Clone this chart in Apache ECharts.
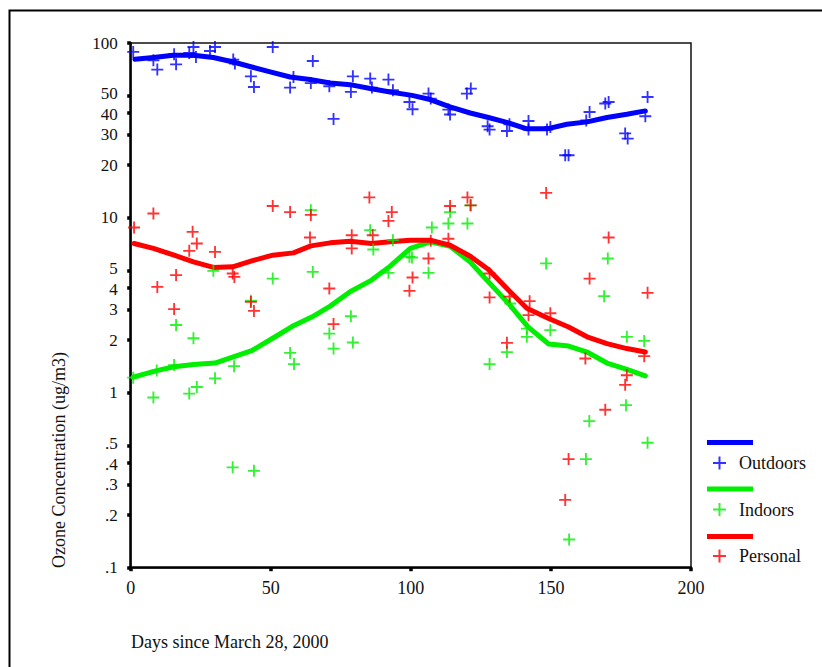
<!DOCTYPE html>
<html>
<head>
<meta charset="utf-8">
<script src="https://cdn.jsdelivr.net/npm/echarts@6/dist/echarts.min.js"></script>
<style>
html,body{margin:0;padding:0;background:#fff;}
#chart{width:822px;height:667px;}
</style>
</head>
<body>
<div id="chart"></div>
<script>
// ---- data (day since March 28, 2000 ; ozone ug/m3) ----
var outdoorsPoints = [[0.9,88.9],[8.1,79.6],[9.5,70.5],[15.5,86.2],[16.2,75.5],[20.9,87.7],[22.4,94.9],[23.3,83.2],[28.3,90],[30.1,94.9],[36.6,80.4],[37.2,76.3],[42.9,64.5],[44.0,56],[50.7,94.9],[56.9,55.6],[58.1,63.9],[64.3,59],[65,78.9],[70.9,56.6],[72.4,36.8],[78.6,52.5],[79.3,64.5],[85.5,62.6],[86.1,55.6],[92,61.8],[93.6,53.7],[99.5,46],[100.6,41.8],[106.3,51.4],[107.1,48.1],[113.4,41.6],[114,39],[120,51.4],[121.4,54.9],[127.4,33.4],[128.1,32],[134.3,31.4],[135.2,34.3],[142,35.8],[142,32],[148.6,32],[149.8,33.1],[155.1,22.8],[156.3,22.8],[162.6,36.1],[163.8,40.3],[169.4,45.1],[170.6,46],[176.5,30.4],[177.4,28.4],[183.7,38.1],[184.5,49.1]];
var outdoorsFit = [[1.5,80.7],[8.1,82.6],[15.2,85.1],[22.4,85.1],[29.5,82.6],[36.6,77.9],[43.2,72.9],[49.8,68.3],[56.9,63.9],[64,61.8],[71.2,59],[78.3,57.8],[85.5,54.9],[92.6,52.5],[100.4,50.2],[106.9,47.5],[114,43.1],[121.2,39.8],[127.7,37.5],[134.9,34.9],[141.4,32.3],[148.6,32.3],[155.7,34.3],[162.9,35.4],[170,37.5],[177.1,39.1],[183.7,40.9]];

var indoorsPoints = [[0.9,1.22],[8.1,0.94],[9.3,1.34],[16.2,2.44],[15.5,1.44],[22.4,2.05],[20.9,0.99],[23.6,1.08],[30.1,1.21],[29.5,4.98],[36.9,1.42],[36.4,0.375],[44.0,0.358],[42.9,3.36],[50.7,4.5],[56.9,1.69],[58.3,1.46],[64.3,11.07],[65,4.91],[70.9,2.18],[72.4,1.79],[78.6,2.74],[79.3,1.94],[85.5,8.51],[86.6,6.6],[92,4.85],[93.6,7.46],[99.5,6.0],[100.4,5.94],[106.3,4.85],[107.5,8.81],[113.4,9.29],[114,10.8],[120.2,9.29],[121.2,11.8],[128.1,1.46],[134.3,1.71],[135.5,3.24],[141.4,2.33],[141.4,2.09],[148.3,5.49],[149.8,2.28],[156.5,0.145],[162.5,0.418],[163.7,0.689],[169,3.57],[170.3,5.86],[176.8,0.85],[177.1,2.09],[183.3,1.98],[184.5,0.518]];
var indoorsFit = [[0.9,1.23],[9.3,1.34],[15.5,1.41],[22.4,1.45],[30.1,1.48],[36.9,1.61],[43.2,1.74],[50.7,2.05],[57.7,2.4],[64.8,2.72],[71.2,3.13],[78.3,3.78],[86,4.41],[92.6,5.3],[99.8,6.69],[106.9,7.29],[114,6.89],[121.2,5.6],[127.7,4.31],[134.9,3.24],[141.8,2.38],[149.2,1.9],[156.3,1.85],[162.9,1.71],[170,1.48],[177.1,1.36],[183.7,1.25]];

var personalPoints = [[1.2,8.81],[8.1,10.6],[9.5,4.03],[16.2,4.71],[15.5,3.01],[20.9,6.48],[22.1,8.32],[23.6,7.14],[30.1,6.39],[36.4,4.81],[37,4.6],[42.9,3.31],[44,2.94],[50.7,11.7],[56.9,10.8],[64.3,10.4],[64,7.73],[70.9,3.95],[72.4,2.47],[78.9,7.96],[78.9,6.69],[85.2,13.1],[86.4,7.96],[92,9.61],[93.2,10.8],[99.5,3.83],[100.6,4.56],[106.3,5.86],[107.1,7.4],[113.4,7.6],[114,11.7],[120.2,13.1],[121.4,11.8],[128.1,4.81],[128.1,3.51],[134.3,1.93],[135.2,3.55],[142.4,3.34],[142,2.78],[148.3,13.9],[149.8,2.85],[155.1,0.244],[156.3,0.418],[162.3,1.57],[163.8,4.5],[169.4,0.8],[170.6,7.73],[176.5,1.11],[177.1,1.26],[183.3,1.62],[184.5,3.73]];
var personalFit = [[1.2,7.14],[8.1,6.69],[15.5,6.12],[22.4,5.6],[29.5,5.21],[36.4,5.25],[43.2,5.68],[50.7,6.12],[58.1,6.31],[64.3,6.92],[71.2,7.2],[78.3,7.36],[86,7.14],[92.6,7.3],[99.8,7.46],[106.9,7.46],[114,6.98],[121.2,6.04],[127.7,5.07],[134.9,3.86],[141.4,3.04],[149.2,2.66],[156.3,2.38],[162.9,2.09],[170,1.91],[177.1,1.79],[183.7,1.71]];

var seriesNames = ['Outdoors','Indoors','Personal'];
var yTickValues = [0.1,0.2,0.3,0.4,0.5,1,2,3,4,5,10,20,30,40,50,100];
var yTickLabels = ['.1','.2','.3','.4','.5','1','2','3','4','5','10','20','30','40','50','100'];
var xTickValues = [0,50,100,150,200];
var yAxisTitle = 'Ozone Concentration (ug/m3)';
var xAxisTitle = 'Days since March 28, 2000';

// ---- styling ----
var colors = ['#0000ff','#00ee00','#ff0000'];
var plusPath = 'path://M5.5,0H7.5V5.5H13V7.5H7.5V13H5.5V7.5H0V5.5H5.5Z';
var FONT = '"Liberation Serif","Times New Roman",serif';
var LBL = 17;

var chart = echarts.init(document.getElementById('chart'), null, {renderer:'svg'});

// labels that sit very close together get nudged a hair apart
var nudgeUp = {'50':1, '5':1, '.5':1};
var nudgeDown = {'40':1, '4':1, '.4':1};
function yFmt(v){
  var best = 0, bd = Infinity;
  for (var i=0;i<yTickValues.length;i++){
    var d = Math.abs(Math.log(v) - Math.log(yTickValues[i]));
    if (d < bd){ bd = d; best = i; }
  }
  var s = yTickLabels[best];
  if (nudgeUp[s]) return '{up|' + s + '}';
  if (nudgeDown[s]) return '{dn|' + s + '}';
  return '{n|' + s + '}';
}

var pointSets = [outdoorsPoints, indoorsPoints, personalPoints];
var fitSets = [outdoorsFit, indoorsFit, personalFit];
var series = [];
for (var i=0;i<3;i++){
  series.push({
    name: seriesNames[i] + ' fit',
    type: 'line',
    data: fitSets[i],
    showSymbol: false,
    symbol: 'none',
    smooth: false,
    lineStyle: {color: colors[i], width: 5, cap:'round', join:'round'},
    itemStyle: {color: colors[i]},
    silent: true,
    animation: false,
    z: 2
  });
  series.push({
    name: seriesNames[i],
    type: 'scatter',
    data: pointSets[i],
    symbol: plusPath,
    symbolSize: 12,
    itemStyle: {color: colors[i]},
    animation: false,
    z: 3
  });
}

var lblBase = {color: '#111', fontFamily: FONT, fontSize: LBL, lineHeight: 15};

var option = {
  backgroundColor: '#fff',
  animation: false,
  grid: {
    left: 130.7, right: 131, top: 43, bottom: 99.3,
    show: true, borderColor: '#111', borderWidth: 1.5, backgroundColor: 'transparent'
  },
  xAxis: {
    type: 'value', min: 0, max: 200, interval: 50,
    axisLine: {show: true, onZero: false, lineStyle: {color: '#000', width: 2.5}},
    axisTick: {show: true, length: 3.5, lineStyle: {color: '#000', width: 3.5}, customValues: xTickValues},
    axisLabel: {color: '#111', fontFamily: FONT, fontSize: 18, margin: 11, customValues: xTickValues},
    splitLine: {show: false}
  },
  yAxis: {
    type: 'log', logBase: 10, min: 0.1, max: 100,
    axisLine: {show: true, onZero: false, lineStyle: {color: '#000', width: 2.5}},
    axisTick: {show: true, length: 3.5, lineStyle: {color: '#000', width: 3.5}, customValues: yTickValues},
    axisLabel: {
      color: '#111', fontFamily: FONT, fontSize: LBL, lineHeight: 15, margin: 13,
      customValues: yTickValues, formatter: yFmt, hideOverlap: false,
      rich: {
        n: lblBase,
        up: Object.assign({padding: [0,0,4,0]}, lblBase),
        dn: Object.assign({padding: [4,0,0,0]}, lblBase)
      }
    },
    splitLine: {show: false}
  },
  legend: {
    orient: 'vertical',
    left: 708, top: 449,
    data: seriesNames,
    itemWidth: 25, itemHeight: 13,
    itemGap: 28.5,
    textStyle: {color: '#111', fontFamily: FONT, fontSize: 18, lineHeight: 18, padding: [0,0,0,2]},
    selectedMode: false
  },
  graphic: [
    {type:'rect', shape:{x:9.5, y:10.5, width:830, height:700}, style:{fill:'none', stroke:'#000', lineWidth:2}, silent:true},
    {type:'rect', shape:{x:707, y:440, width:46, height:5}, style:{fill:colors[0]}, silent:true},
    {type:'rect', shape:{x:707, y:486.5, width:46, height:5}, style:{fill:colors[1]}, silent:true},
    {type:'rect', shape:{x:707, y:534, width:46, height:5}, style:{fill:colors[2]}, silent:true},
    {type:'text', x:59, y:568, rotation: Math.PI/2,
      style:{text: yAxisTitle, fill:'#111', font: '18px ' + FONT, textAlign:'left', textVerticalAlign:'middle', align:'left', verticalAlign:'middle'}},
    {type:'text', x:131, y:642,
      style:{text: xAxisTitle, fill:'#111', font: '18px ' + FONT, textAlign:'left', textVerticalAlign:'middle', align:'left', verticalAlign:'middle'}}
  ],
  series: series
};
chart.setOption(option);
</script>
</body>
</html>
